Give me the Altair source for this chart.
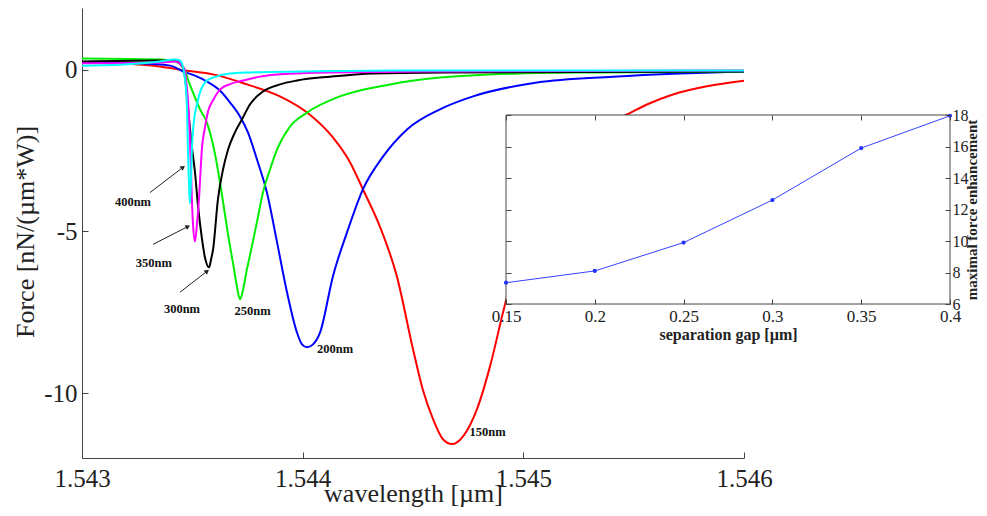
import altair as alt
import pandas as pd

SERIF = "Liberation Serif"
INK = "#222222"
AX = "#444444"

# ---- main plot: force vs wavelength for each separation gap ----
wl_150 = [1.543000, 1.543172, 1.543353, 1.543467, 1.543594, 1.543748, 1.543897, 1.544020, 1.544137,
          1.544215, 1.544273, 1.544350, 1.544427, 1.544500, 1.544545, 1.544591, 1.544636, 1.544677,
          1.544727, 1.544790, 1.544849, 1.544908, 1.544926, 1.544985, 1.545076, 1.545166, 1.545257,
          1.545347, 1.545470, 1.545560, 1.545678, 1.545832, 1.546000]
f_150 = [0.22, 0.19, 0.09, -0.03, -0.15, -0.46, -0.83, -1.33, -2.10,
         -2.87, -3.70, -4.85, -6.39, -8.64, -9.90, -10.80, -11.42, -11.57,
         -11.33, -10.49, -9.17, -7.50, -7.01, -5.56, -3.86, -2.78, -2.16,
         -1.76, -1.39, -1.08, -0.77, -0.52, -0.35]

wl_200 = [1.543000, 1.543263, 1.543399, 1.543458, 1.543512, 1.543566, 1.543625, 1.543671, 1.543716,
          1.543752, 1.543793, 1.543838, 1.543884, 1.543929, 1.543974, 1.543997, 1.544020, 1.544047,
          1.544079, 1.544137, 1.544201, 1.544273, 1.544364, 1.544473, 1.544622, 1.544772, 1.545062,
          1.545406, 1.545710, 1.546000]
f_200 = [0.22, 0.19, 0.12, -0.06, -0.19, -0.37, -0.65, -1.02, -1.45,
         -1.94, -2.78, -3.80, -5.34, -6.88, -8.12, -8.49, -8.58, -8.49,
         -8.12, -6.39, -5.03, -3.70, -2.69, -1.85, -1.23, -0.83, -0.40,
         -0.22, -0.12, -0.06]

wl_250 = [1.543000, 1.543353, 1.543421, 1.543458, 1.543467, 1.543485, 1.543503, 1.543535, 1.543566,
          1.543603, 1.543634, 1.543662, 1.543689, 1.543702, 1.543716, 1.543730, 1.543748, 1.543761,
          1.543793, 1.543820, 1.543852, 1.543884, 1.543943, 1.544020, 1.544169, 1.544396, 1.544622,
          1.544985, 1.545347, 1.546000]
f_250 = [0.34, 0.31, 0.25, 0.09, -0.03, -0.40, -0.71, -1.23, -1.64,
         -2.62, -3.86, -5.10, -6.17, -6.70, -7.10, -6.80, -6.15, -5.75,
         -4.70, -3.80, -3.09, -2.47, -1.76, -1.33, -0.83, -0.46, -0.25,
         -0.12, -0.09, -0.06]

wl_300 = [1.543000, 1.543353, 1.543421, 1.543458, 1.543467, 1.543480, 1.543494, 1.543512, 1.543526,
          1.543544, 1.543557, 1.543576, 1.543585, 1.543594, 1.543616, 1.543639, 1.543662, 1.543693,
          1.543725, 1.543761, 1.543820, 1.543897, 1.543974, 1.544124, 1.544319, 1.544668, 1.546000]
f_300 = [0.25, 0.28, 0.28, 0.05, -0.25, -1.14, -2.16, -3.18, -4.23,
         -5.25, -5.80, -6.11, -5.86, -5.56, -4.01, -3.09, -2.47, -1.94,
         -1.54, -1.08, -0.68, -0.46, -0.34, -0.22, -0.12, -0.09, -0.06]

wl_350 = [1.543000, 1.543353, 1.543421, 1.543453, 1.543467, 1.543471, 1.543480, 1.543489, 1.543494,
          1.543498, 1.543503, 1.543512, 1.543521, 1.543530, 1.543544, 1.543557, 1.543571, 1.543594,
          1.543625, 1.543671, 1.543730, 1.543807, 1.543897, 1.544124, 1.544668, 1.546000]
f_350 = [0.19, 0.22, 0.25, 0.12, -0.03, -0.31, -0.93, -2.16, -3.09,
         -4.01, -4.78, -5.31, -4.78, -4.01, -2.40, -1.80, -1.30, -0.95,
         -0.62, -0.45, -0.34, -0.22, -0.15, -0.09, -0.06, -0.03]

wl_400 = [1.543000, 1.543172, 1.543353, 1.543421, 1.543444, 1.543458, 1.543467, 1.543476, 1.543480,
          1.543485, 1.543489, 1.543494, 1.543498, 1.543508, 1.543521, 1.543539, 1.543566, 1.543594,
          1.543671, 1.543748, 1.543988, 1.544441, 1.546000]
f_400 = [0.12, 0.15, 0.25, 0.31, 0.28, 0.06, -0.31, -1.23, -2.47,
         -3.55, -4.14, -3.40, -2.47, -1.54, -1.08, -0.62, -0.34, -0.25,
         -0.12, -0.09, -0.06, -0.03, -0.03]

series = [
    ("150nm", wl_150, f_150, "#ff0000"),
    ("200nm", wl_200, f_200, "#0000ff"),
    ("250nm", wl_250, f_250, "#00ee00"),
    ("300nm", wl_300, f_300, "#000000"),
    ("350nm", wl_350, f_350, "#ff00ff"),
    ("400nm", wl_400, f_400, "#00ffff"),
]

x_ticks = [1.543, 1.544, 1.545, 1.546]
y_ticks = [-10, -5, 0]

label_text = ["400nm", "350nm", "300nm", "250nm", "200nm", "150nm"]
label_wl = [1.543231, 1.543326, 1.543453, 1.543773, 1.544147, 1.544838]
label_f = [-4.09, -5.97, -7.41, -7.45, -8.64, -11.20]

arrow_wl0 = [1.543308, 1.543322, 1.543444]
arrow_f0 = [-3.80, -5.40, -6.88]
arrow_wl1 = [1.543458, 1.543480, 1.543567]
arrow_f1 = [-3.02, -4.85, -6.23]
arrow_angle = [53, 63, 52]

# ---- inset: maximal force enhancement vs separation gap ----
gap = [0.15, 0.2, 0.25, 0.3, 0.35, 0.4]
enh = [7.35, 8.1, 9.9, 12.6, 15.9, 17.95]
enh_ticks = [6, 8, 10, 12, 14, 16, 18]

W, H = 662, 450
IX0, IX1 = 424, 868   # inset range inside the plot area
IY0, IY1 = 296, 107


def xs():
    return alt.Scale(domain=[1.543, 1.546], nice=False, zero=False)


def ys():
    return alt.Scale(domain=[-12, 1.9], nice=False, zero=False)


def xi():
    return alt.Scale(domain=[0.15, 0.4], range=[IX0, IX1], nice=False, zero=False)


def yi():
    return alt.Scale(domain=[6, 18], range=[IY0, IY1], nice=False, zero=False)


main_x_axis = alt.Axis(orient="bottom", values=x_ticks, format=".3f", grid=False,
                       labelFont=SERIF, labelFontSize=25, labelColor=INK, labelPadding=8,
                       labelFlush=False, labelOverlap=False,
                       ticks=False, tickSize=0, domain=True, domainColor=AX, domainWidth=1,
                       title="wavelength [µm]", titleFont=SERIF, titleFontSize=26,
                       titleFontWeight="normal", titleColor=INK, titleX=331, titleY=43,
                       titleAlign="center", titleBaseline="alphabetic")
main_y_axis = alt.Axis(orient="left", values=y_ticks, labelExpr="toString(datum.value)", grid=False,
                       labelFont=SERIF, labelFontSize=25, labelColor=INK, labelPadding=5,
                       labelOverlap=False, labelFlush=False,
                       ticks=False, tickSize=0, domain=True, domainColor=AX, domainWidth=1,
                       title="Force [nN/(µm*W)]", titleFont=SERIF, titleFontSize=26,
                       titleFontWeight="normal", titleColor=INK, titleX=-57, titleY=223.5,
                       titleAngle=270, titleAlign="center", titleBaseline="middle")
tick_x_axis = alt.Axis(orient="top", offset=-H, values=x_ticks, labels=False, domain=False,
                       grid=False, ticks=True, tickSize=6, tickColor=AX, title=None)
tick_y_axis = alt.Axis(orient="right", offset=-W, values=y_ticks, labels=False, domain=False,
                       grid=False, ticks=True, tickSize=6, tickColor=AX, title=None)

layers = []
for i, (name, wl, f, col) in enumerate(series):
    d = pd.DataFrame({"wl": wl, "f": f})
    xa, ya = None, None
    if i == 0:
        xa, ya = main_x_axis, main_y_axis
    elif i == 1:
        xa, ya = tick_x_axis, tick_y_axis
    layers.append(
        alt.Chart(d).mark_line(color=col, strokeWidth=2, interpolate="monotone").encode(
            x=alt.X("wl:Q", scale=xs(), axis=xa),
            y=alt.Y("f:Q", scale=ys(), axis=ya),
        )
    )

lab = pd.DataFrame({"t": label_text, "wl": label_wl, "f": label_f})
layers.append(
    alt.Chart(lab).mark_text(font=SERIF, fontSize=12.5, fontWeight="bold", color="#111111",
                             align="center", baseline="middle").encode(
        x=alt.X("wl:Q", scale=xs(), axis=None),
        y=alt.Y("f:Q", scale=ys(), axis=None),
        text="t:N",
    )
)

arr = pd.DataFrame({"x0": arrow_wl0, "y0": arrow_f0, "x1": arrow_wl1, "y1": arrow_f1, "ang": arrow_angle})
layers.append(
    alt.Chart(arr).mark_rule(color=INK, strokeWidth=1).encode(
        x=alt.X("x0:Q", scale=xs(), axis=None),
        y=alt.Y("y0:Q", scale=ys(), axis=None),
        x2="x1:Q", y2="y1:Q",
    )
)
layers.append(
    alt.Chart(arr).mark_point(shape="triangle-up", filled=True, color=INK, size=28, opacity=1).encode(
        x=alt.X("x1:Q", scale=xs(), axis=None),
        y=alt.Y("y1:Q", scale=ys(), axis=None),
        angle=alt.Angle("ang:Q", scale=None),
    )
)

# inset box (white background)
box = pd.DataFrame({"a": [gap[0]], "b": [gap[-1]], "c": [enh_ticks[0]], "d": [enh_ticks[-1]]})
layers.append(
    alt.Chart(box).mark_rect(fill="white", stroke=AX, strokeWidth=1).encode(
        x=alt.X("a:Q", scale=xi(), axis=alt.Axis(
            orient="bottom", offset=-(H - IY0), values=gap, format="~g", grid=False,
            labelFont=SERIF, labelFontSize=17, labelColor=INK, labelPadding=4,
            labelFlush=False, labelOverlap=False, ticks=False, tickSize=0, domain=False,
            title="separation gap [µm]", titleFont=SERIF, titleFontSize=16, titleFontWeight="bold",
            titleColor=INK, titleX=(IX0 + IX1) / 2, titleY=30, titleAlign="center",
            titleBaseline="middle", zindex=1)),
        x2="b:Q",
        y=alt.Y("c:Q", scale=yi(), axis=alt.Axis(
            orient="right", offset=IX1 - W, values=enh_ticks, grid=False,
            labelFont=SERIF, labelFontSize=16, labelColor=INK, labelPadding=2,
            labelFlush=False, labelOverlap=False, ticks=False, tickSize=0, domain=False,
            title="maximal force enhancement", titleFont=SERIF, titleFontSize=15,
            titleFontWeight="bold", titleColor=INK, titleAngle=270, titleX=26,
            titleY=(IY0 + IY1) / 2, titleAlign="center", titleBaseline="alphabetic", zindex=1)),
        y2="d:Q",
    )
)

ins = pd.DataFrame({"g": gap, "e": enh})
layers.append(
    alt.Chart(ins).mark_line(color="#3344ff", strokeWidth=1).encode(
        x=alt.X("g:Q", scale=xi(), axis=alt.Axis(
            orient="top", offset=-IY0, values=gap, labels=False, domain=False, grid=False,
            ticks=True, tickSize=5, tickColor=AX, title=None, zindex=1)),
        y=alt.Y("e:Q", scale=yi(), axis=alt.Axis(
            orient="left", offset=-IX1, values=enh_ticks, labels=False, domain=False, grid=False,
            ticks=True, tickSize=5, tickColor=AX, title=None, zindex=1)),
    )
)
layers.append(
    alt.Chart(ins).mark_point(shape="circle", filled=True, color="#2233ff", size=18, opacity=1).encode(
        x=alt.X("g:Q", scale=xi(), axis=alt.Axis(
            orient="bottom", offset=-(H - IY1), values=gap, labels=False, domain=False, grid=False,
            ticks=True, tickSize=5, tickColor=AX, title=None, zindex=1)),
        y=alt.Y("e:Q", scale=yi(), axis=alt.Axis(
            orient="right", offset=IX0 - W, values=enh_ticks, labels=False, domain=False, grid=False,
            ticks=True, tickSize=5, tickColor=AX, title=None, zindex=1)),
    )
)

chart = (
    alt.layer(*layers)
    .resolve_scale(x="independent", y="independent")
    .resolve_axis(x="independent", y="independent")
    .properties(width=W, height=H, background="white",
                autosize=alt.AutoSizeParams(type="none"),
                padding={"left": 74, "top": 0, "right": 235, "bottom": 50})
    .configure_view(stroke=None)
)

chart.save("out.html", embed_options={"renderer": "svg", "actions": False})
